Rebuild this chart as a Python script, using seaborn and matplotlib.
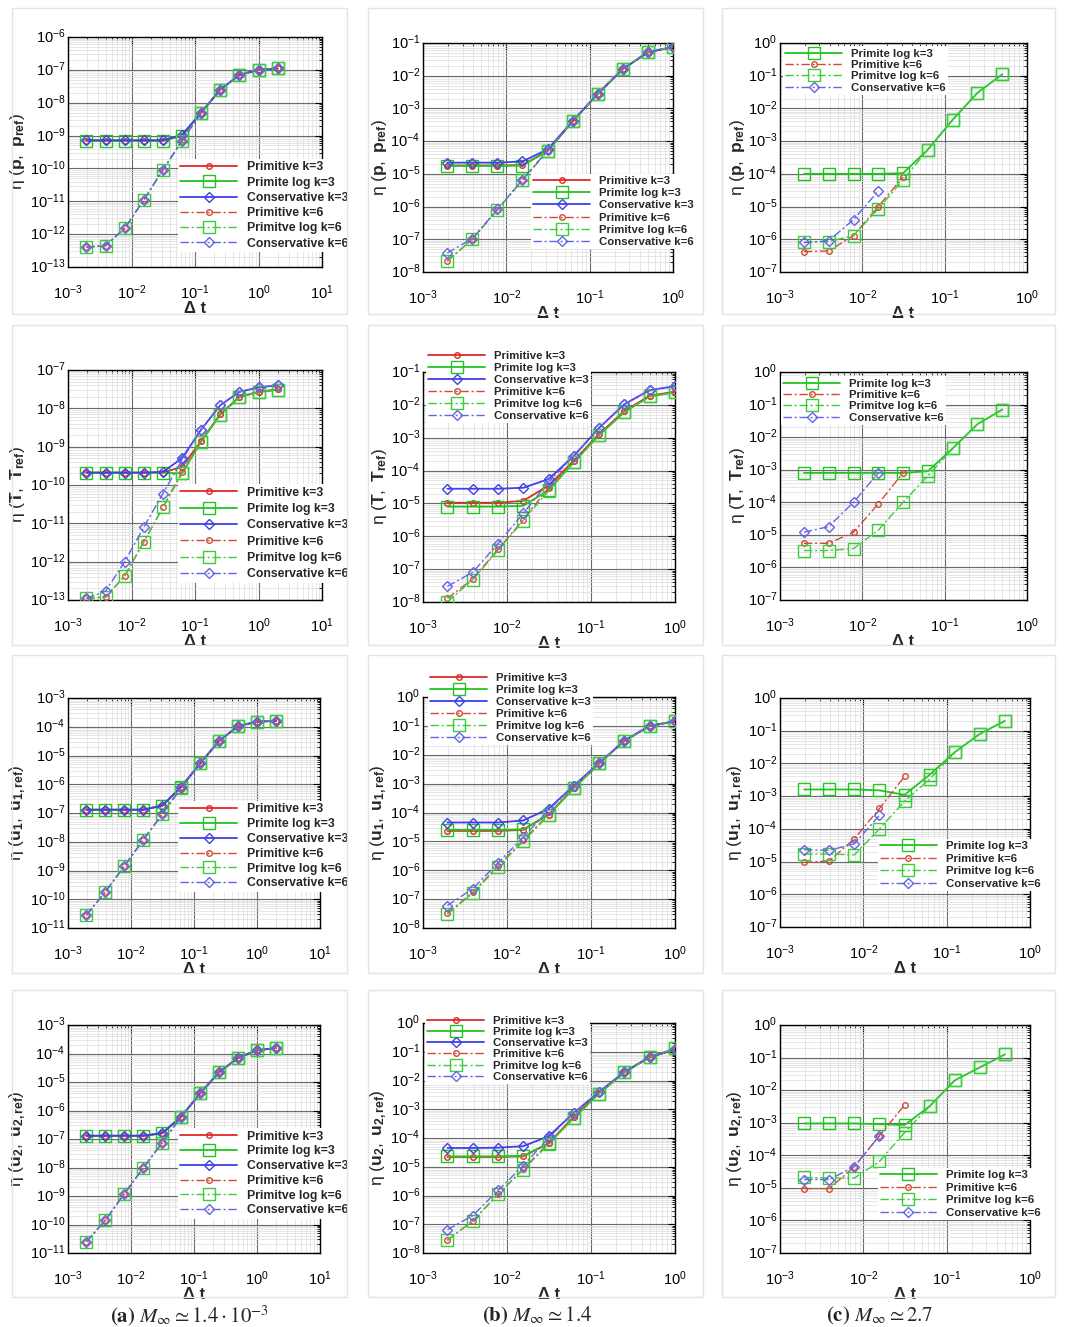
import numpy as np
import pandas as pd
import matplotlib
matplotlib.use("Agg")
import matplotlib.pyplot as plt
import seaborn as sns
from matplotlib.ticker import LogLocator, NullFormatter, LogFormatterSciNotation
from matplotlib.patches import Rectangle

sns.set_theme(style="white")
plt.rcParams["font.family"] = ["Liberation Sans", "DejaVu Sans"]
plt.rcParams["mathtext.fontset"] = "custom"
plt.rcParams["mathtext.rm"] = "Liberation Sans"
plt.rcParams["mathtext.bf"] = "Liberation Sans:bold"
plt.rcParams["mathtext.it"] = "Liberation Sans:italic"
plt.rcParams["mathtext.sf"] = "Liberation Sans"
plt.rcParams["legend.numpoints"] = 1

# ---------------- data ----------------
DT = [0.001953125, 0.00390625, 0.0078125, 0.015625, 0.03125,
      0.0625, 0.125, 0.25, 0.5, 1.0, 2.0]

S_P3 = "Primitive k=3"
S_L3 = "Primite log k=3"
S_C3 = "Conservative k=3"
S_P6 = "Primitive k=6"
S_L6 = "Primitve log k=6"
S_C6 = "Conservative k=6"

# column (a) M ~ 1.4e-3
A_P = {
    S_P3: [7e-10, 7e-10, 7e-10, 7e-10, 7e-10, 1.0e-9, 5e-9, 2.5e-8, 7e-8, 1e-7, 1.1e-7],
    S_L3: [7e-10, 7e-10, 7e-10, 7e-10, 7e-10, 1.0e-9, 5e-9, 2.5e-8, 7e-8, 1e-7, 1.1e-7],
    S_C3: [7.2e-10, 7.2e-10, 7.2e-10, 7.2e-10, 7.2e-10, 1.05e-9, 5e-9, 2.5e-8, 7e-8, 1e-7, 1.1e-7],
    S_P6: [4e-13, 4.5e-13, 1.5e-12, 1.1e-11, 9e-11, 7e-10, 5e-9, 2.5e-8, 7e-8, 1e-7, 1.1e-7],
    S_L6: [4e-13, 4.5e-13, 1.5e-12, 1.1e-11, 9e-11, 7e-10, 5e-9, 2.5e-8, 7e-8, 1e-7, 1.1e-7],
    S_C6: [4e-13, 4.5e-13, 1.5e-12, 1.1e-11, 9e-11, 7e-10, 5e-9, 2.5e-8, 7e-8, 1e-7, 1.1e-7],
}
A_T = {
    S_P3: [2.1e-10, 2.1e-10, 2.1e-10, 2.1e-10, 2.1e-10, 3e-10, 1.4e-9, 7e-9, 2e-8, 2.7e-8, 3.1e-8],
    S_L3: [2.1e-10, 2.1e-10, 2.1e-10, 2.1e-10, 2.1e-10, 2e-10, 1.35e-9, 6.8e-9, 1.95e-8, 2.65e-8, 3.05e-8],
    S_C3: [2.1e-10, 2.1e-10, 2.1e-10, 2.1e-10, 2.2e-10, 5e-10, 2.8e-9, 1.2e-8, 2.7e-8, 3.5e-8, 4e-8],
    S_P6: [1.1e-13, 1.2e-13, 4.2e-13, 3.3e-12, 2.6e-11, 2.2e-10, 1.4e-9, 7e-9, 2e-8, 2.7e-8, 3.1e-8],
    S_L6: [1.1e-13, 1.2e-13, 4.2e-13, 3.3e-12, 2.6e-11, 2e-10, 1.35e-9, 6.8e-9, 1.95e-8, 2.65e-8, 3.05e-8],
    S_C6: [1.1e-13, 1.7e-13, 1e-12, 8e-12, 6e-11, 4.5e-10, 2.8e-9, 1.2e-8, 2.7e-8, 3.5e-8, 4e-8],
}
A_U1 = {
    S_P3: [1.3e-7, 1.3e-7, 1.3e-7, 1.3e-7, 1.8e-7, 8e-7, 5.3e-6, 3.2e-5, 1.05e-4, 1.5e-4, 1.6e-4],
    S_L3: [1.3e-7, 1.3e-7, 1.3e-7, 1.3e-7, 1.8e-7, 8e-7, 5.3e-6, 3.2e-5, 1.05e-4, 1.5e-4, 1.6e-4],
    S_C3: [1.3e-7, 1.3e-7, 1.3e-7, 1.3e-7, 1.8e-7, 8e-7, 5.3e-6, 3.2e-5, 1.05e-4, 1.5e-4, 1.6e-4],
    S_P6: [2.8e-11, 1.8e-10, 1.4e-9, 1.15e-8, 9e-8, 7.5e-7, 5.3e-6, 3.2e-5, 1.05e-4, 1.5e-4, 1.6e-4],
    S_L6: [2.8e-11, 1.8e-10, 1.4e-9, 1.15e-8, 9e-8, 7.5e-7, 5.3e-6, 3.2e-5, 1.05e-4, 1.5e-4, 1.6e-4],
    S_C6: [2.8e-11, 1.8e-10, 1.4e-9, 1.15e-8, 9e-8, 7.5e-7, 5.3e-6, 3.2e-5, 1.05e-4, 1.5e-4, 1.6e-4],
}
A_U2 = {
    S_P3: [1.3e-7, 1.3e-7, 1.3e-7, 1.3e-7, 1.6e-7, 6e-7, 4e-6, 2.2e-5, 7e-5, 1.3e-4, 1.55e-4],
    S_L3: [1.3e-7, 1.3e-7, 1.3e-7, 1.3e-7, 1.6e-7, 6e-7, 4e-6, 2.2e-5, 7e-5, 1.3e-4, 1.55e-4],
    S_C3: [1.3e-7, 1.3e-7, 1.3e-7, 1.3e-7, 1.6e-7, 6e-7, 4e-6, 2.2e-5, 7e-5, 1.3e-4, 1.55e-4],
    S_P6: [2.5e-11, 1.4e-10, 1.2e-9, 9.5e-9, 7.5e-8, 6e-7, 4e-6, 2.2e-5, 7e-5, 1.3e-4, 1.55e-4],
    S_L6: [2.5e-11, 1.4e-10, 1.2e-9, 9.5e-9, 7.5e-8, 6e-7, 4e-6, 2.2e-5, 7e-5, 1.3e-4, 1.55e-4],
    S_C6: [2.5e-11, 1.4e-10, 1.2e-9, 9.5e-9, 7.5e-8, 6e-7, 4e-6, 2.2e-5, 7e-5, 1.3e-4, 1.55e-4],
}

# column (b) M ~ 1.4
B_P = {
    S_P3: [1.8e-5, 1.8e-5, 1.8e-5, 1.85e-5, 5e-5, 4e-4, 2.8e-3, 1.6e-2, 5.2e-2, 7.5e-2],
    S_L3: [1.75e-5, 1.75e-5, 1.75e-5, 1.8e-5, 5e-5, 4e-4, 2.8e-3, 1.6e-2, 5.3e-2, 7.6e-2],
    S_C3: [2.2e-5, 2.2e-5, 2.2e-5, 2.4e-5, 5.6e-5, 4.1e-4, 2.8e-3, 1.6e-2, 5.2e-2, 7.5e-2],
    S_P6: [2.2e-8, 1e-7, 8e-7, 6.5e-6, 5e-5, 4e-4, 2.8e-3, 1.6e-2, 5.2e-2, 7.5e-2],
    S_L6: [2.1e-8, 1e-7, 8e-7, 6.4e-6, 5e-5, 4e-4, 2.8e-3, 1.6e-2, 5.3e-2, 7.6e-2],
    S_C6: [3.8e-8, 1.05e-7, 8.2e-7, 6.6e-6, 5.2e-5, 4.1e-4, 2.8e-3, 1.6e-2, 5.2e-2, 7.5e-2],
}
B_T = {
    S_P3: [1.05e-5, 1.05e-5, 1.05e-5, 1.2e-5, 3.5e-5, 2e-4, 1.3e-3, 6.5e-3, 1.9e-2, 2.5e-2],
    S_L3: [8e-6, 8e-6, 8e-6, 8.5e-6, 2.5e-5, 1.8e-4, 1.2e-3, 6e-3, 1.8e-2, 2.4e-2],
    S_C3: [2.8e-5, 2.8e-5, 2.8e-5, 3e-5, 5.5e-5, 2.8e-4, 2e-3, 1.05e-2, 2.8e-2, 3.7e-2],
    S_P6: [1.3e-8, 5e-8, 4e-7, 3.2e-6, 3e-5, 2e-4, 1.3e-3, 6.5e-3, 1.9e-2, 2.5e-2],
    S_L6: [1e-8, 4.8e-8, 3.7e-7, 3e-6, 2.4e-5, 1.8e-4, 1.2e-3, 6e-3, 1.8e-2, 2.4e-2],
    S_C6: [3e-8, 8e-8, 6e-7, 5e-6, 4.5e-5, 2.8e-4, 2e-3, 1.05e-2, 2.8e-2, 3.7e-2],
}
B_U1 = {
    S_P3: [2.3e-5, 2.3e-5, 2.3e-5, 2.5e-5, 8.5e-5, 7e-4, 5e-3, 3e-2, 1e-1, 1.4e-1],
    S_L3: [2.5e-5, 2.5e-5, 2.5e-5, 2.6e-5, 8.5e-5, 7e-4, 5e-3, 3e-2, 1e-1, 1.45e-1],
    S_C3: [4.5e-5, 4.5e-5, 4.5e-5, 5.3e-5, 1.35e-4, 8.5e-4, 5.2e-3, 3.1e-2, 1e-1, 1.45e-1],
    S_P6: [3.2e-8, 1.7e-7, 1.4e-6, 1.1e-5, 8.5e-5, 7e-4, 5e-3, 3e-2, 1e-1, 1.4e-1],
    S_L6: [3e-8, 1.6e-7, 1.3e-6, 1e-5, 8e-5, 6.8e-4, 5e-3, 3e-2, 1e-1, 1.45e-1],
    S_C6: [6e-8, 2.3e-7, 1.8e-6, 1.4e-5, 1.2e-4, 8.5e-4, 5.2e-3, 3.1e-2, 1e-1, 1.45e-1],
}
B_U2 = {
    S_P3: [2.2e-5, 2.2e-5, 2.2e-5, 2.3e-5, 6.5e-5, 5.5e-4, 3.7e-3, 2e-2, 6.5e-2, 1.2e-1],
    S_L3: [2.3e-5, 2.3e-5, 2.3e-5, 2.4e-5, 6.5e-5, 5e-4, 3.5e-3, 1.9e-2, 6.5e-2, 1.3e-1],
    S_C3: [4.5e-5, 4.5e-5, 4.6e-5, 5.2e-5, 1.15e-4, 7.5e-4, 4e-3, 2e-2, 6.5e-2, 1.2e-1],
    S_P6: [2.8e-8, 1.3e-7, 1.1e-6, 8.5e-6, 6.5e-5, 5.5e-4, 3.7e-3, 2e-2, 6.5e-2, 1.2e-1],
    S_L6: [2.8e-8, 1.3e-7, 1.1e-6, 8e-6, 6e-5, 5e-4, 3.5e-3, 1.9e-2, 6.5e-2, 1.3e-1],
    S_C6: [6.5e-8, 2e-7, 1.5e-6, 1.1e-5, 1e-4, 7.5e-4, 4e-3, 2e-2, 6.5e-2, 1.2e-1],
}

# column (c) M ~ 2.7
C_P = {
    S_L3: [1e-4, 1e-4, 1e-4, 1e-4, 1.05e-4, 5.5e-4, 4.5e-3, 3e-2, 1.1e-1],
    S_P6: [4.2e-7, 4.4e-7, 1.3e-6, 1e-5, 8e-5],
    S_L6: [8e-7, 8.5e-7, 1.3e-6, 8.5e-6, 6.5e-5, 5.5e-4, 4.5e-3, 3e-2, 1.1e-1],
    S_C6: [8e-7, 9e-7, 4e-6, 3e-5],
}
C_T = {
    S_L3: [8e-4, 8e-4, 8e-4, 8e-4, 8e-4, 9e-4, 4.5e-3, 2.5e-2, 7e-2],
    S_P6: [5.5e-6, 5.5e-6, 1.2e-5, 9e-5, 8e-4],
    S_L6: [3.3e-6, 3.3e-6, 3.8e-6, 1.4e-5, 1e-4, 6.5e-4, 4.5e-3, 2.5e-2, 7e-2],
    S_C6: [1.2e-5, 1.8e-5, 1e-4, 8e-4],
}
C_U1 = {
    S_L3: [1.6e-3, 1.6e-3, 1.6e-3, 1.5e-3, 1.1e-3, 4.5e-3, 2.2e-2, 8e-2, 2e-1],
    S_P6: [9.5e-6, 1.05e-5, 5e-5, 4.2e-4, 4e-3],
    S_L6: [1.7e-5, 1.7e-5, 1.6e-5, 1e-4, 7e-4, 3.3e-3, 2.2e-2, 8e-2, 2e-1],
    S_C6: [2.3e-5, 2.2e-5, 3.5e-5, 2.6e-4],
}
C_U2 = {
    S_L3: [9.5e-4, 9.5e-4, 9.5e-4, 9e-4, 8.5e-4, 3.2e-3, 2e-2, 5e-2, 1.25e-1],
    S_P6: [9.5e-6, 9.5e-6, 4.5e-5, 4e-4, 3.5e-3],
    S_L6: [2.1e-5, 2e-5, 2e-5, 6.5e-5, 5e-4, 3.2e-3, 2e-2, 5e-2, 1.25e-1],
    S_C6: [1.8e-5, 1.8e-5, 4.5e-5, 4e-4],
}

YLABELS = [r"$\mathrm{\eta}\ (\mathbf{p},\ \mathbf{p}_{\mathbf{ref}})$",
           r"$\mathrm{\eta}\ (\mathbf{T},\ \mathbf{T}_{\mathbf{ref}})$",
           r"$\mathrm{\eta}\ (\mathbf{u}_{\mathbf{1}},\ \mathbf{u}_{\mathbf{1,ref}})$",
           r"$\mathrm{\eta}\ (\mathbf{u}_{\mathbf{2}},\ \mathbf{u}_{\mathbf{2,ref}})$"]
XLABEL = "Δ t"
CAPTIONS = [r"$\mathbf{(a)}\ M_{\infty} \simeq 1.4\cdot 10^{-3}$",
            r"$\mathbf{(b)}\ M_{\infty} \simeq 1.4$",
            r"$\mathbf{(c)}\ M_{\infty} \simeq 2.7$"]

# ---------------- styles ----------------
STYLE = {
    S_P3: dict(c="#e02a2a", m="o", ms=4, ls="-", lw=1.3),
    S_L3: dict(c="#22c422", m="s", ms=8, ls="-", lw=1.3),
    S_C3: dict(c="#4040e6", m="D", ms=5.5, ls="-", lw=1.3),
    S_P6: dict(c="#d04a3a", m="o", ms=4, ls=(0, (6, 2, 1.5, 2)), lw=1.0),
    S_L6: dict(c="#3ccc3c", m="s", ms=8, ls=(0, (6, 2, 1.5, 2)), lw=1.0),
    S_C6: dict(c="#6464e6", m="D", ms=5.5, ls=(0, (6, 2, 1.5, 2)), lw=1.0),
}

W, H = 1065, 1327
fig = plt.figure(figsize=(W / 100, H / 100), dpi=100)

def fx(px):
    return px / W

def fy(py):
    return 1 - py / H

# axes rects in pixels: (left, top, right, bottom)
RECTS = [
    [(68, 37, 322, 267), (423, 43, 673, 272), (780, 43, 1027, 272)],
    [(68, 370, 322, 600), (423, 372, 675, 602), (780, 372, 1027, 600)],
    [(68, 698, 320, 928), (423, 697, 675, 928), (780, 698, 1030, 927)],
    [(68, 1025, 320, 1253), (423, 1023, 675, 1253), (780, 1025, 1030, 1253)],
]
DATA = [[A_P, B_P, C_P], [A_T, B_T, C_T], [A_U1, B_U1, C_U1], [A_U2, B_U2, C_U2]]
XLIMS = [(1e-3, 10), (1e-3, 1), (1e-3, 1)]
YLIMS = [
    [(1e-13, 1e-6), (1e-8, 1e-1), (1e-7, 1e0)],
    [(1e-13, 1e-7), (1e-8, 1e-1), (1e-7, 1e0)],
    [(1e-11, 1e-3), (1e-8, 1e0), (1e-7, 1e0)],
    [(1e-11, 1e-3), (1e-8, 1e0), (1e-7, 1e0)],
]
YLAB_X = [-0.16, -0.135, -0.135]
# legend: (line start x px, first entry center y px, fontsize pt, row pitch px)
LEGS = [
    [(180, 169, 8.8, 15.5), (533, 183, 8.2, 13.5), (785, 55, 8.2, 12.8)],
    [(180, 495, 8.8, 16.5), (428, 358, 8.2, 13.3), (783, 385, 8.2, 12.8)],
    [(180, 811, 8.8, 15.0), (430, 680, 8.2, 13.3), (880, 848, 8.2, 13.9)],
    [(180, 1138, 8.8, 15.0), (427, 1022, 8.2, 12.6), (880, 1177, 8.2, 13.9)],
]
FRAMES_X = [(12, 347), (368, 703), (722, 1055)]
FRAMES_Y = [(8, 314), (325, 645), (655, 973), (990, 1297)]

for r in range(4):
    for c in range(3):
        x0, y0 = FRAMES_X[c][0], FRAMES_Y[r][0]
        x1, y1 = FRAMES_X[c][1], FRAMES_Y[r][1]
        fig.patches.append(Rectangle((fx(x0), fy(y1)), fx(x1) - fx(x0), fy(y0) - fy(y1),
                                     transform=fig.transFigure, fill=False,
                                     edgecolor="#e4e4e4", lw=1.0, zorder=0))

for r in range(4):
    for c in range(3):
        L, T, R, B = RECTS[r][c]
        ax = fig.add_axes([fx(L), fy(B), fx(R) - fx(L), fy(T) - fy(B)])
        ax.set_xscale("log")
        ax.set_yscale("log")
        ax.set_facecolor("white")
        for name, vals in DATA[r][c].items():
            st = STYLE[name]
            x = DT[:len(vals)]
            sns.lineplot(x=x, y=vals, ax=ax, label=name, color=st["c"],
                         marker=st["m"], markersize=st["ms"], markerfacecolor="none",
                         markeredgecolor=st["c"], markeredgewidth=1.0,
                         linestyle=st["ls"], linewidth=st["lw"], sort=False,
                         errorbar=None, legend=False, zorder=3)
        ax.set_xlim(*XLIMS[c])
        ax.set_ylim(*YLIMS[r][c])
        ax.xaxis.set_major_locator(LogLocator(base=10, numticks=30))
        ax.yaxis.set_major_locator(LogLocator(base=10, numticks=30))
        ax.xaxis.set_minor_locator(LogLocator(base=10, subs=np.arange(2, 10), numticks=200))
        ax.yaxis.set_minor_locator(LogLocator(base=10, subs=np.arange(2, 10), numticks=200))
        ax.xaxis.set_major_formatter(LogFormatterSciNotation())
        ax.yaxis.set_major_formatter(LogFormatterSciNotation())
        ax.xaxis.set_minor_formatter(NullFormatter())
        ax.yaxis.set_minor_formatter(NullFormatter())
        ax.set_axisbelow(True)
        ax.grid(which="minor", color="#dcdcdc", lw=0.5)
        ax.grid(which="major", color="#6a6a6a", lw=0.8)
        ax.tick_params(which="both", direction="in", top=True, right=True, colors="black")
        ax.tick_params(which="major", length=5, width=0.8, labelsize=10.5)
        ax.tick_params(axis="x", which="major", pad=12)
        ax.tick_params(axis="y", which="major", pad=2)
        ax.tick_params(which="minor", length=2.5, width=0.6)
        for tk in ax.yaxis.get_major_ticks():
            tk.label1.set_verticalalignment("center")
        for sp in ax.spines.values():
            sp.set_color("black")
            sp.set_linewidth(1.0)
        ax.set_xlabel(XLABEL, fontsize=12, fontweight="bold", labelpad=-1)
        ax.set_ylabel(YLABELS[r], fontsize=12.5)
        ax.yaxis.set_label_coords(YLAB_X[c], 0.5)

        lx, ly, fs, pitch = LEGS[r][c]
        fs_px = fs * 100 / 72
        bp = 0.2
        top_px = ly - pitch / 2 - bp * fs_px
        left_px = lx - bp * fs_px
        hl = 57 / fs_px
        ls_ = max(pitch - fs_px, 0) / fs_px
        leg = ax.legend(loc="upper left", bbox_to_anchor=(fx(left_px), fy(top_px)),
                        bbox_transform=fig.transFigure, frameon=True, facecolor="white",
                        edgecolor="none", framealpha=1, fancybox=False,
                        prop={"weight": "bold", "size": fs}, handlelength=hl,
                        handletextpad=0.8, labelspacing=ls_, borderpad=bp,
                        borderaxespad=0, numpoints=1)
        leg.set_zorder(10)

CAP_X = [190, 537, 880]
for c in range(3):
    fig.text(fx(CAP_X[c]), fy(1316), CAPTIONS[c], ha="center", va="center",
             fontsize=15, math_fontfamily="stix")

fig.savefig("out.png", dpi=100, facecolor="white")
